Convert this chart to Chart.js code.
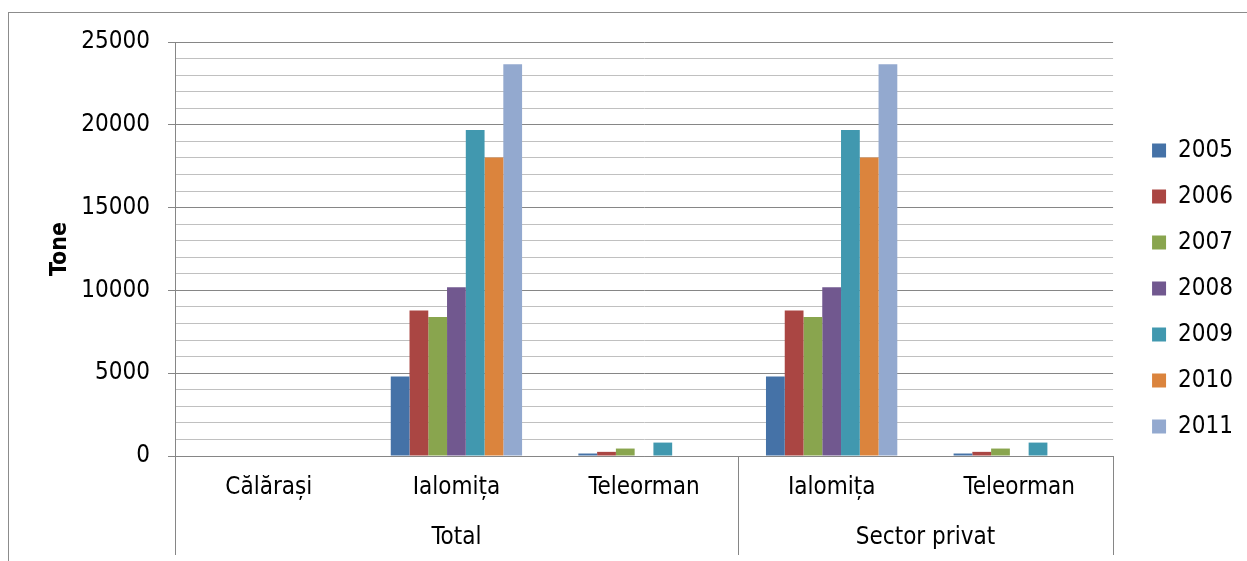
<!DOCTYPE html>
<html>
<head>
<meta charset="utf-8">
<script src="https://cdn.jsdelivr.net/npm/chart.js@4.4.1/dist/chart.umd.min.js"></script>
<style>
    html, body { margin: 0; padding: 0; background: #fff; overflow: hidden; }
    #wrap { position: relative; width: 1247px; height: 561px; overflow: hidden; }
    #frame { position: absolute; left: 8px; top: 12px; width: 1300px; height: 600px; border-left: 1px solid #8c8c8c; border-top: 1px solid #8c8c8c; }
    #chart { position: absolute; left: 0; top: 0; }
</style>
</head>
<body>
<div id="wrap">
    <div id="frame"></div>
    <canvas id="chart" width="1247" height="561"></canvas>
</div>
<script>
// categories (two levels, like the Excel multi-level axis)
const categories = ["Călărași", "Ialomița", "Teleorman", "Ialomița", "Teleorman"];
const groupLabels = ["Total", "Sector privat"];
const groupSpans = [[0, 2], [3, 4]];

const years = ["2005", "2006", "2007", "2008", "2009", "2010", "2011"];
const yearColors = ["#4572A7", "#AA4643", "#89A54E", "#71588F", "#4198AF", "#DB843D", "#93A9CF"];

// Tone, per category
const v2005 = [null, 4800, 150, 4800, 150];
const v2006 = [null, 8790, 250, 8790, 250];
const v2007 = [null, 8390, 450, 8390, 450];
const v2008 = [null, 10190, null, 10190, null];
const v2009 = [null, 19680, 810, 19680, 810];
const v2010 = [null, 18020, null, 18020, null];
const v2011 = [null, 23650, null, 23650, null];
const seriesValues = [v2005, v2006, v2007, v2008, v2009, v2010, v2011];

const yMax = 25000;
const yStep = 1000;
const yLabelStep = 5000;

const FONT = "'DejaVu Sans Condensed', 'DejaVu Sans', sans-serif";
const FONT_SIZE = 24;
const AXIS_GRAY = "#868686";
const MINOR_GRAY = "#c0c0c0";

// group labels + separators under the category axis
const groupAxisPlugin = {
    id: "groupAxis",
    afterDraw(chart) {
        const x = chart.scales.x;
        const area = chart.chartArea;
        const ctx = chart.ctx;
        const bottom = 555;
        const half = (x.getPixelForValue(1) - x.getPixelForValue(0)) / 2;

        ctx.save();
        ctx.strokeStyle = AXIS_GRAY;
        ctx.lineWidth = 1;
        const seps = [x.left];
        groupSpans.forEach(([a, b]) => seps.push(x.getPixelForValue(b) + half));
        seps.forEach((px) => {
            const p = Math.round(px) + 0.5;
            ctx.beginPath();
            ctx.moveTo(p, area.bottom);
            ctx.lineTo(p, bottom);
            ctx.stroke();
        });

        ctx.fillStyle = "#000";
        ctx.font = FONT_SIZE + "px " + FONT;
        ctx.textAlign = "center";
        ctx.textBaseline = "middle";
        groupSpans.forEach(([a, b], i) => {
            const cx = (x.getPixelForValue(a) + x.getPixelForValue(b)) / 2;
            ctx.fillText(groupLabels[i], cx, 538);
        });
        ctx.restore();
    }
};

const ctx = document.getElementById("chart").getContext("2d");

new Chart(ctx, {
    type: "bar",
    data: {
        labels: categories,
        datasets: years.map((yr, i) => ({
            label: yr,
            data: seriesValues[i],
            backgroundColor: yearColors[i],
            borderWidth: 0,
            categoryPercentage: 0.7,
            barPercentage: 1.0,
        }))
    },
    options: {
        responsive: false,
        animation: false,
        layout: { padding: { top: 42, right: 4, bottom: 26, left: 0 } },
        plugins: {
            legend: {
                position: "right",
                labels: {
                    font: { family: FONT, size: FONT_SIZE },
                    color: "#000",
                    boxWidth: 14,
                    boxHeight: 14,
                    padding: 22,
                },
            },
            tooltip: { enabled: false },
        },
        scales: {
            x: {
                grid: { display: false, drawTicks: false },
                border: { color: AXIS_GRAY, width: 1 },
                ticks: {
                    font: { family: FONT, size: FONT_SIZE },
                    color: "#000",
                    padding: 17,
                    maxRotation: 0,
                    autoSkip: false,
                },
                afterFit(scale) { scale.height = 79; },
            },
            y: {
                min: 0,
                max: yMax,
                border: { color: AXIS_GRAY, width: 1 },
                grid: {
                    color: (c) => (c.tick && c.tick.value % yLabelStep === 0 ? AXIS_GRAY : MINOR_GRAY),
                    tickColor: (c) => (c.tick && c.tick.value % yLabelStep === 0 ? AXIS_GRAY : "rgba(0,0,0,0)"),
                    tickLength: 7,
                    lineWidth: 1,
                },
                ticks: {
                    stepSize: yStep,
                    autoSkip: false,
                    padding: 18,
                    font: { family: FONT, size: FONT_SIZE },
                    color: "#000",
                    callback: (v) => (v % yLabelStep === 0 ? String(v) : ""),
                },
                title: {
                    display: true,
                    text: "Tone",
                    color: "#000",
                    font: { family: FONT, size: 23, weight: "bold" },
                    padding: { top: 46, bottom: 0 },
                },
                afterFit(scale) { scale.width = 175; },
            },
            spacer: {
                type: "linear",
                position: "right",
                display: true,
                grid: { display: false, drawTicks: false },
                border: { display: false },
                ticks: { display: false },
                afterFit(scale) { scale.width = 17; },
            },
        },
    },
    plugins: [groupAxisPlugin],
});
</script>
</body>
</html>
